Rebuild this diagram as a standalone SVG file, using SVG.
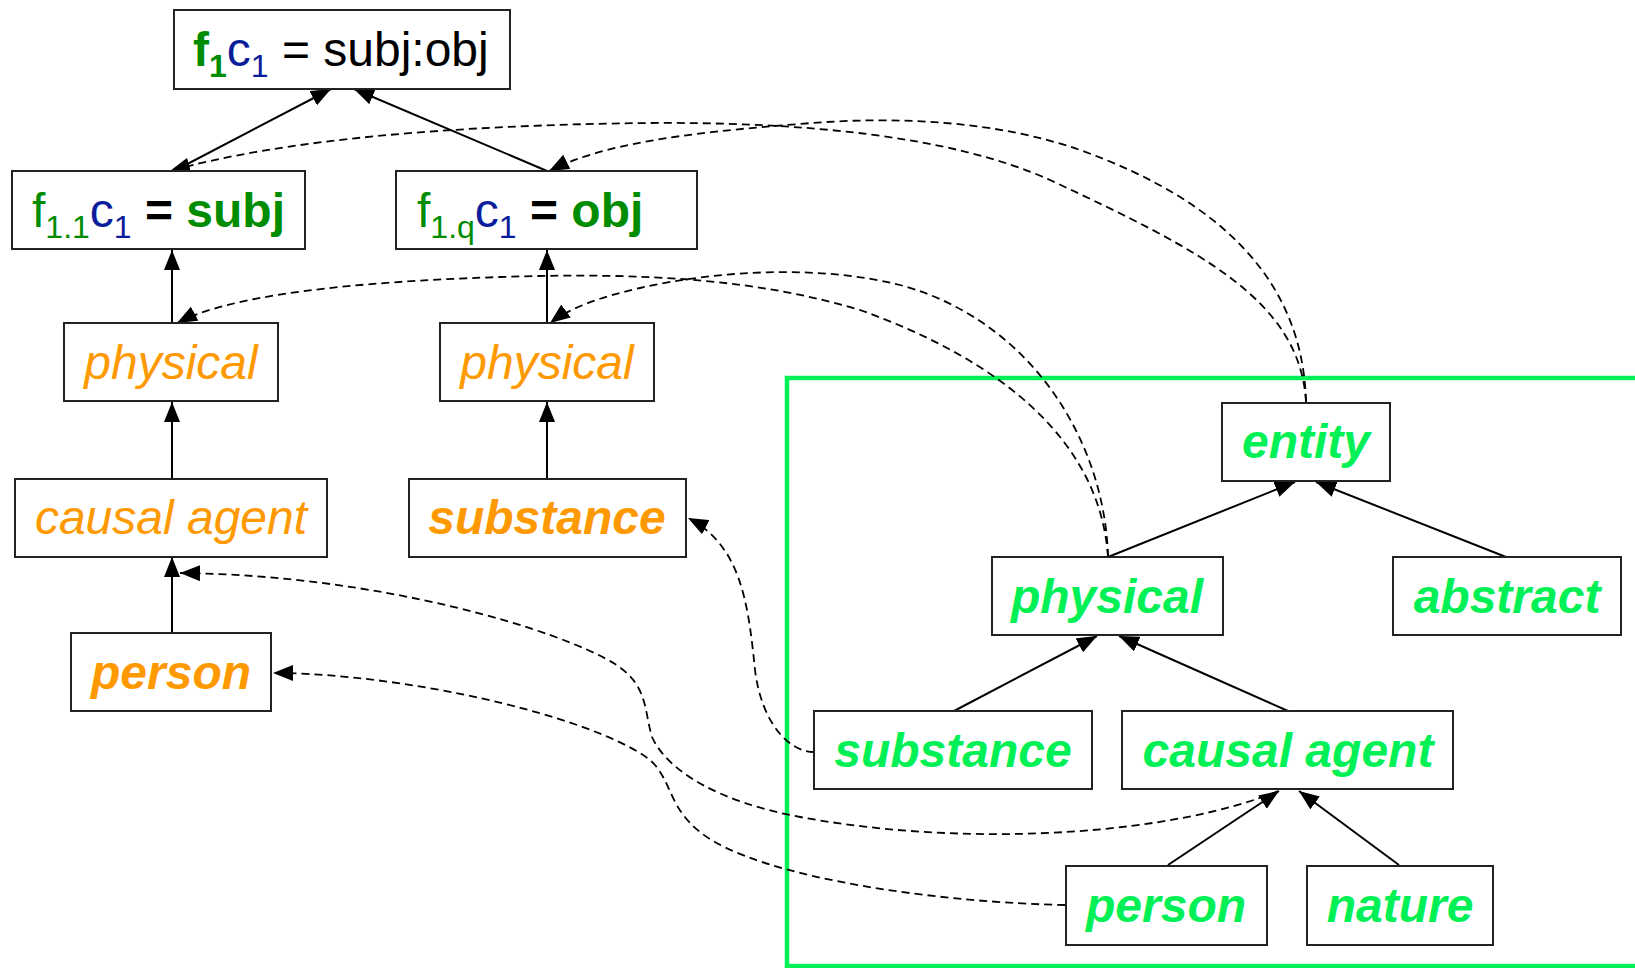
<svg xmlns="http://www.w3.org/2000/svg" width="1635" height="968" viewBox="0 0 1635 968">
  <style>
    .box { fill: #ffffff; stroke: #222222; stroke-width: 2; }
    .lbl { font-family: "Liberation Sans", Arial, sans-serif; font-size: 48px; }
    .mid { text-anchor: middle; }
    .org { fill: #ff9900; font-style: italic; }
    .grn { fill: #00f055; font-style: italic; font-weight: bold; }
    .bi { font-weight: bold; }
    .dg { fill: #008c00; }
    .bl { fill: #0a1e9c; }
    .k { fill: #000000; }
    .sub { font-size: 32px; }
    .edge { fill: none; stroke: #000000; stroke-width: 2; marker-end: url(#arrow); }
    .link { fill: none; stroke: #000000; stroke-width: 1.8; stroke-dasharray: 8 5; }
    .link.arr { marker-end: url(#arrow); }
  </style>
  <defs>
    <marker id="arrow" viewBox="0 0 20 16" markerWidth="20" markerHeight="16" markerUnits="userSpaceOnUse" refX="20" refY="8" orient="auto">
      <path d="M0,0 L20,8 L0,16 Z" fill="#000000"/>
    </marker>
  </defs>

  <!-- region frame for the source taxonomy -->
  <rect x="787" y="378" width="900" height="588" fill="none" stroke="#00f055" stroke-width="4.5"/>

  <!-- connectors -->
  <g id="connectors">
    <!-- left hierarchy -->
    <line class="edge" x1="174" y1="171" x2="331" y2="89"/>
    <line class="edge" x1="547" y1="171" x2="354" y2="89"/>
    <line class="edge" x1="172" y1="323" x2="172" y2="250"/>
    <line class="edge" x1="547" y1="323" x2="547" y2="250"/>
    <line class="edge" x1="172" y1="479" x2="172" y2="402"/>
    <line class="edge" x1="547" y1="479" x2="547" y2="402"/>
    <line class="edge" x1="172" y1="633" x2="172" y2="557"/>
    <!-- right hierarchy -->
    <line class="edge" x1="1108" y1="557" x2="1295" y2="482"/>
    <line class="edge" x1="1506" y1="557" x2="1316" y2="482"/>
    <line class="edge" x1="954" y1="711" x2="1097" y2="636"/>
    <line class="edge" x1="1288" y1="711" x2="1119" y2="636"/>
    <line class="edge" x1="1168" y1="865" x2="1279" y2="791"/>
    <line class="edge" x1="1399" y1="865" x2="1299" y2="791"/>
    <!-- mappings -->
    <path class="link arr" d="M1306,402 C1300,300 1200,250 1050,180 C950,135 800,122 650,123 C450,125 280,140 170,171"/>
    <path class="link arr" d="M1306,402 C1303,280 1220,200 1080,150 C1000,122 900,115 800,124 C680,133 600,145 549,171"/>
    <path class="link arr" d="M1108,557 C1100,440 1000,360 860,310 C760,280 650,272 500,277 C350,282 230,295 177,323"/>
    <path class="link arr" d="M1108,557 C1105,440 1030,320 900,285 C820,265 720,270 640,288 C600,297 570,308 550,323"/>
    <path class="link arr" d="M814,752 C790,752 762,725 755,670 C748,600 740,545 688,518"/>
    <path class="link arr" d="M1278,791 C1180,832 980,850 800,817 C720,802 668,772 652,737 C644,710 648,685 615,664 C560,630 380,575 180,573"/>
    <path class="link arr" d="M1065,905 C950,903 760,880 700,832 C670,808 672,785 655,765 C638,745 560,712 440,690 C380,679 320,673 273,673"/>
  </g>

  <!-- left side -->
  <g id="f1c1">
    <rect class="box" x="174" y="10" width="336" height="79"/>
    <text class="lbl" x="193" y="66"><tspan class="dg bi">f</tspan><tspan class="dg bi sub" dy="11">1</tspan><tspan class="bl" dy="-11">c</tspan><tspan class="bl sub" dy="11">1</tspan><tspan class="k" dy="-11"> = subj:obj</tspan></text>
  </g>
  <g id="subj">
    <rect class="box" x="12" y="171" width="293" height="78"/>
    <text class="lbl" x="32" y="226.5"><tspan class="dg">f</tspan><tspan class="dg sub" dy="11">1.1</tspan><tspan class="bl" dy="-11">c</tspan><tspan class="bl sub" dy="11">1</tspan><tspan class="k bi" dy="-11"> = </tspan><tspan class="dg bi">subj</tspan></text>
  </g>
  <g id="obj">
    <rect class="box" x="396" y="171" width="301" height="78"/>
    <text class="lbl" x="417" y="226.5"><tspan class="dg">f</tspan><tspan class="dg sub" dy="11">1.q</tspan><tspan class="bl" dy="-11">c</tspan><tspan class="bl sub" dy="11">1</tspan><tspan class="k bi" dy="-11"> = </tspan><tspan class="dg bi">obj</tspan></text>
  </g>
  <g id="physical-l">
    <rect class="box" x="64" y="323" width="214" height="78"/>
    <text class="lbl mid org" x="171" y="378.5">physical</text>
  </g>
  <g id="physical-m">
    <rect class="box" x="440" y="323" width="214" height="78"/>
    <text class="lbl mid org" x="547" y="378.5">physical</text>
  </g>
  <g id="causal-agent-l">
    <rect class="box" x="15" y="479" width="312" height="78"/>
    <text class="lbl mid org" x="171" y="534">causal agent</text>
  </g>
  <g id="substance-m">
    <rect class="box" x="409" y="479" width="277" height="78"/>
    <text class="lbl mid org bi" x="547" y="534">substance</text>
  </g>
  <g id="person-l">
    <rect class="box" x="71" y="633" width="200" height="78"/>
    <text class="lbl mid org bi" x="171" y="688.5">person</text>
  </g>

  <!-- right side -->
  <g id="entity">
    <rect class="box" x="1222" y="403" width="168" height="78"/>
    <text class="lbl mid grn" x="1306" y="458">entity</text>
  </g>
  <g id="physical-r">
    <rect class="box" x="992" y="557" width="231" height="78"/>
    <text class="lbl mid grn" x="1107" y="612.5">physical</text>
  </g>
  <g id="abstract">
    <rect class="box" x="1393" y="557" width="228" height="78"/>
    <text class="lbl mid grn" x="1507" y="612.5">abstract</text>
  </g>
  <g id="substance-r">
    <rect class="box" x="814" y="711" width="278" height="78"/>
    <text class="lbl mid grn" x="953" y="766.5">substance</text>
  </g>
  <g id="causal-agent-r">
    <rect class="box" x="1122" y="711" width="331" height="78"/>
    <text class="lbl mid grn" x="1288" y="766.5">causal agent</text>
  </g>
  <g id="person-r">
    <rect class="box" x="1066" y="866" width="201" height="79"/>
    <text class="lbl mid grn" x="1166" y="921.5">person</text>
  </g>
  <g id="nature">
    <rect class="box" x="1307" y="866" width="186" height="79"/>
    <text class="lbl mid grn" x="1400" y="921.5">nature</text>
  </g>
</svg>
